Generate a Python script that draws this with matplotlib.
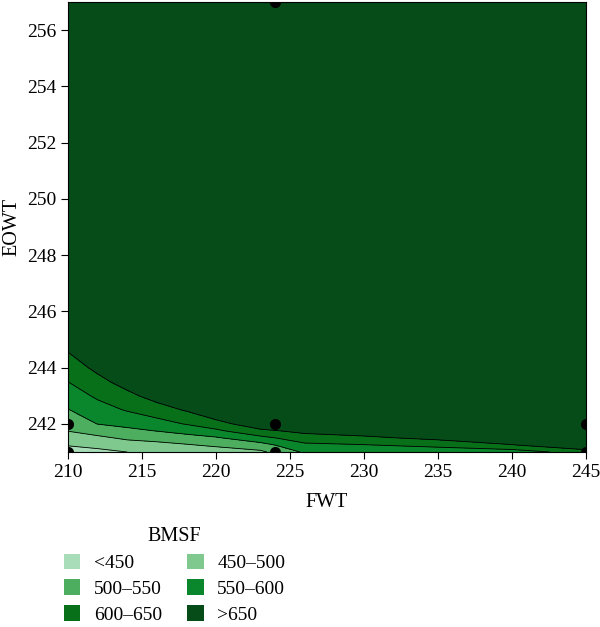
import numpy as np
import matplotlib
matplotlib.use("Agg")
import matplotlib.pyplot as plt
from matplotlib.patches import Patch

plt.rcParams['font.family'] = ['Liberation Serif', 'DejaVu Serif']

# response surface (BMSF at FWT x EOWT nodes)
fwt = [210, 212, 214, 216, 218, 220, 223, 226, 230, 235, 240, 245]
eowt = [241.0, 241.25, 241.5, 241.75, 242.0, 242.5, 243.0, 243.5, 244.0, 245.0, 257.0]
bmsf = [
    [428, 437, 450, 452, 461, 473, 490, 557, 558, 567, 574, 625],
    [453, 464, 479, 485, 496, 509, 531, 590, 598, 615, 647, 700],
    [477, 490, 508, 518, 531, 544, 586, 626, 639, 663, 700, 740],
    [501, 520, 538, 551, 567, 590, 638, 664, 679, 700, 730, 765],
    [517, 551, 563, 580, 603, 629, 686, 700, 710, 730, 755, 785],
    [548, 580, 604, 628, 655, 700, 730, 740, 750, 765, 785, 810],
    [574, 608, 637, 670, 700, 740, 760, 770, 780, 790, 805, 825],
    [600, 635, 670, 713, 740, 770, 780, 790, 800, 810, 825, 840],
    [624, 662, 703, 755, 770, 790, 800, 810, 820, 830, 840, 855],
    [671, 717, 769, 780, 800, 810, 820, 830, 840, 850, 860, 870],
    [900, 900, 900, 900, 900, 900, 900, 900, 900, 900, 900, 900],
]

# design points
pts_fwt = [210, 224, 245, 210, 224, 245, 224]
pts_eowt = [241, 241, 241, 242, 242, 242, 257]

levels = [0, 450, 500, 550, 600, 650, 2000]
labels = ['<450', '450\u2013500', '500\u2013550', '550\u2013600', '600\u2013650', '>650']
colors = ['#a9ddb9', '#7fc98f', '#4dae5f', '#0a862c', '#09701a', '#054c18']

fig = plt.figure(figsize=(6, 6.27), dpi=100)
ax = fig.add_axes([0.1133, 0.2791, 0.8633, 0.7177])

X, Y = np.meshgrid(fwt, eowt)
Z = np.array(bmsf)
ax.contourf(X, Y, Z, levels=levels, colors=colors)
ax.contour(X, Y, Z, levels=levels[1:-1], colors='black', linewidths=0.6)
ax.plot(pts_fwt, pts_eowt, 'o', color='black', markersize=7)

ax.set_xlim(210, 245)
ax.set_ylim(241, 257)
ax.set_xticks(range(210, 246, 5))
ax.set_yticks(range(242, 257, 2))
ax.tick_params(labelsize=14, length=5, width=0.8)
ax.set_xlabel('FWT', fontsize=14.5, labelpad=9)
ax.set_ylabel('EOWT', fontsize=14.5)
ax.yaxis.set_label_coords(-0.09, 0.5)

handles = [Patch(facecolor=c, edgecolor='none') for c in colors]
order = [0, 2, 4, 1, 3, 5]
fig.legend([handles[i] for i in order], [labels[i] for i in order],
           ncol=2, loc='upper left', bbox_to_anchor=(0.08, 0.184),
           frameon=False, title='BMSF', fontsize=14, title_fontsize=14.5,
           handlelength=0.85, handleheight=0.85, columnspacing=1.3,
           labelspacing=0.38, handletextpad=0.7, borderpad=0.3)

fig.savefig('out.png', dpi=100)
